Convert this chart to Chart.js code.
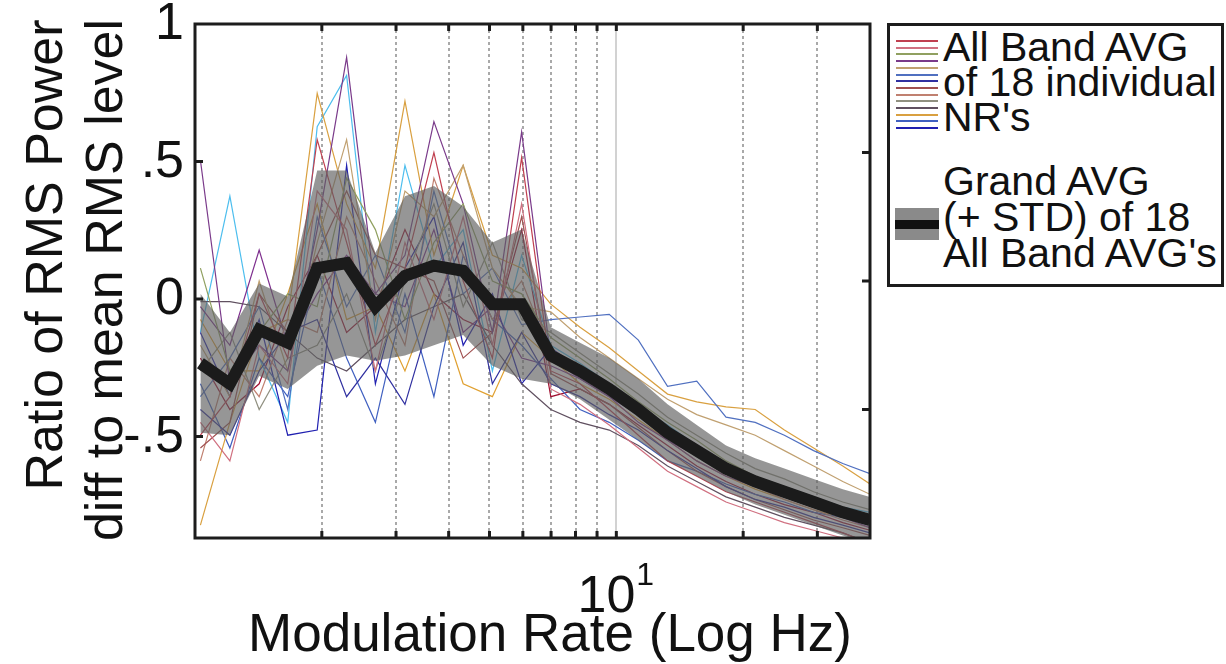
<!DOCTYPE html>
<html>
<head>
<meta charset="utf-8">
<title>RMS power vs modulation rate</title>
<script src="https://cdn.jsdelivr.net/npm/chart.js@4.4.1/dist/chart.umd.min.js"></script>
<style>
  html, body { margin: 0; padding: 0; background: #fff; }
  #wrap { position: relative; width: 1226px; height: 664px; font-family: "Liberation Sans", Arial, sans-serif; color: #111; }
  #grafico { position: absolute; left: 0; top: 0; }
  #leyenda { position: absolute; left: 887px; top: 23px; width: 337px; height: 264px; border: 3px solid #1c1c1c; box-sizing: border-box; background: #fff; }
  .txt { position: absolute; left: 53px; font-size: 41px; line-height: 35px; white-space: nowrap; }
  .sw { position: absolute; left: 6px; width: 42px; height: 2px; }
  #icono { position: absolute; left: 5px; top: 182px; width: 44px; height: 32px; background: #8a8a8a; }
  #icono div { position: absolute; left: 0; top: 12px; width: 44px; height: 9px; background: #111; }
</style>
</head>
<body>
<div id="wrap">
  <canvas id="grafico" width="1226" height="664"></canvas>
  <div id="leyenda">
    <div id="muestras"></div>
    <div class="txt" style="top:4px">All Band AVG<br>of 18 individual<br>NR's</div>
    <div class="txt" style="top:137px; line-height:36px">Grand AVG<br>(+ STD) of 18<br>All Band AVG's</div>
    <div id="icono"><div></div></div>
  </div>
</div>
<script>
// Frecuencias de modulación (Hz), eje logarítmico
const frecuencias = [1.03, 1.21, 1.42, 1.66, 1.95, 2.29, 2.68, 3.15, 3.69, 4.33, 5.08, 5.96,
                     6.99, 8.20, 9.62, 11.28, 13.23, 15.52, 18.21, 21.36, 25.05, 29.39, 34.47, 40.0];

// Promedio general de los 18 NR y su desviación estándar
const promedioGeneral = [-0.32, -0.40, -0.19, -0.24, 0.05, 0.07, -0.10, 0.02, 0.06, 0.04, -0.09, -0.09,
                         -0.29, -0.35, -0.42, -0.50, -0.59, -0.66, -0.73, -0.78, -0.82, -0.86, -0.90, -0.93];
const desviacion = [0.27, 0.20, 0.18, 0.18, 0.38, 0.36, 0.21, 0.31, 0.31, 0.25, 0.24, 0.29,
                    0.11, 0.11, 0.12, 0.12, 0.11, 0.10, 0.09, 0.09, 0.09, 0.09, 0.09, 0.09];

// Promedios "All Band" de cada uno de los 18 NR
const nrIndividuales = [
  [-0.60, -0.45, -0.05, -0.30, 0.55, 0.15, -0.25, 0.05, 0.50, 0.00, -0.30, 0.48, -0.35, -0.40, -0.50, -0.60, -0.70, -0.76, -0.82, -0.86, -0.90, -0.94, -0.98, -1.02],
  [-0.55, -0.70, -0.25, -0.40, 0.35, 0.20, -0.35, 0.15, -0.15, 0.25, -0.25, 0.30, -0.42, -0.48, -0.56, -0.65, -0.74, -0.80, -0.86, -0.90, -0.94, -0.97, -1.00, -1.04],
  [0.05, -0.35, -0.20, -0.05, -0.10, 0.40, 0.20, -0.15, 0.15, 0.30, 0.00, -0.05, -0.22, -0.30, -0.38, -0.47, -0.55, -0.62, -0.70, -0.76, -0.80, -0.85, -0.88, -0.91],
  [0.47, -0.40, -0.25, -0.35, 0.20, 0.87, -0.05, 0.10, 0.62, 0.30, -0.20, 0.58, -0.30, -0.38, -0.45, -0.52, -0.62, -0.70, -0.76, -0.80, -0.84, -0.88, -0.92, -0.96],
  [-0.25, -0.45, 0.00, -0.35, 0.15, 0.55, -0.15, 0.35, 0.25, 0.45, 0.05, -0.10, -0.12, -0.22, -0.30, -0.38, -0.46, -0.52, -0.56, -0.60, -0.66, -0.72, -0.78, -0.83],
  [-0.45, -0.30, -0.10, -0.50, 0.25, -0.10, 0.10, -0.20, 0.35, -0.05, 0.05, -0.17, -0.15, -0.14, -0.13, -0.23, -0.41, -0.39, -0.53, -0.55, -0.60, -0.66, -0.71, -0.75],
  [-0.50, -0.60, -0.35, -0.20, -0.15, -0.45, -0.30, -0.48, -0.10, 0.15, -0.40, -0.20, -0.40, -0.45, -0.52, -0.58, -0.66, -0.73, -0.80, -0.85, -0.88, -0.92, -0.95, -0.98],
  [-0.65, -0.55, -0.05, -0.20, 0.10, 0.35, 0.10, 0.05, 0.00, -0.30, -0.20, 0.25, -0.36, -0.42, -0.48, -0.57, -0.66, -0.74, -0.80, -0.85, -0.89, -0.93, -0.96, -0.99],
  [-0.70, -0.30, -0.45, -0.15, -0.20, 0.25, 0.00, -0.25, 0.40, 0.10, -0.15, 0.00, -0.28, -0.36, -0.44, -0.52, -0.60, -0.68, -0.75, -0.80, -0.85, -0.89, -0.93, -0.96],
  [-0.35, -0.20, -0.50, -0.30, -0.25, -0.05, -0.35, 0.00, 0.30, -0.10, 0.15, -0.15, -0.20, -0.28, -0.36, -0.44, -0.53, -0.60, -0.67, -0.73, -0.77, -0.82, -0.86, -0.89],
  [-0.08, -0.08, -0.10, -0.20, -0.30, -0.35, -0.25, -0.15, -0.10, -0.05, -0.25, -0.40, -0.50, -0.55, -0.58, -0.64, -0.72, -0.78, -0.84, -0.88, -0.92, -0.95, -0.98, -1.02],
  [-0.95, -0.55, -0.20, -0.15, 0.73, 0.30, 0.05, 0.70, 0.10, 0.45, 0.10, 0.05, -0.09, -0.18, -0.26, -0.35, -0.44, -0.47, -0.49, -0.50, -0.58, -0.65, -0.72, -0.79],
  [-0.40, -0.65, -0.30, -0.45, 0.05, -0.30, -0.55, -0.05, -0.45, 0.10, -0.15, -0.25, -0.38, -0.50, -0.55, -0.62, -0.70, -0.74, -0.79, -0.83, -0.86, -0.90, -0.92, -0.95],
  [-0.20, -0.45, -0.15, -0.60, -0.58, 0.45, -0.40, 0.05, 0.25, -0.25, -0.05, -0.40, -0.26, -0.34, -0.41, -0.50, -0.58, -0.65, -0.72, -0.77, -0.81, -0.85, -0.89, -0.92],
  [-0.10, -0.25, 0.12, -0.25, -0.05, 0.10, -0.05, -0.10, 0.20, -0.20, -0.10, -0.30, -0.33, -0.38, -0.45, -0.55, -0.62, -0.68, -0.74, -0.79, -0.84, -0.88, -0.91, -0.95],
  [-0.20, 0.33, -0.30, -0.55, 0.60, 0.80, -0.20, 0.45, 0.05, 0.20, -0.35, 0.10, -0.25, -0.32, -0.40, -0.49, -0.56, -0.64, -0.71, -0.77, -0.80, -0.84, -0.88, -0.90],
  [-0.15, -0.35, -0.35, -0.05, 0.30, -0.15, -0.10, -0.35, -0.05, -0.40, -0.45, -0.20, -0.30, -0.40, -0.46, -0.54, -0.62, -0.70, -0.76, -0.81, -0.85, -0.89, -0.92, -0.95],
  [-0.30, -0.50, -0.40, -0.10, 0.10, -0.20, -0.10, 0.20, -0.05, -0.15, -0.20, 0.20, -0.45, -0.42, -0.48, -0.56, -0.64, -0.72, -0.78, -0.83, -0.87, -0.90, -0.94, -0.97]
];
const coloresNR = ['#c04050', '#d07080', '#90a060', '#7a3a8a', '#c0a070', '#5070c0', '#3030a0', '#a05050', '#c08070',
                   '#909080', '#605060', '#d9a040', '#4060c0', '#2020b0', '#7e2f8e', '#4dbeee', '#e0a030', '#a01030'];

// Marcas de los ejes
const marcasX = [2, 3, 4, 5, 6, 7, 8, 9, 10, 20, 30];
const marcasY = [0.5, 0, -0.5];
const valoresEtiquetaY = [1, 0.5, 0, -0.5];
const textosEtiquetaY = ['1', '.5', '0', '-.5'];

const fuente = '"Liberation Sans", Arial, sans-serif';

function puntos(valores) {
    return valores.map((v, i) => ({ x: frecuencias[i], y: v }));
}

// Muestras de color de la leyenda (una línea por NR visible)
const muestras = document.getElementById('muestras');
for (let i = 0; i < 14; i++) {
    const linea = document.createElement('div');
    linea.className = 'sw';
    linea.style.top = (14 + i * 6.7) + 'px';
    linea.style.background = coloresNR[i];
    muestras.appendChild(linea);
}

const bandaSup = promedioGeneral.map((v, i) => v + desviacion[i]);
const bandaInf = promedioGeneral.map((v, i) => v - desviacion[i]);

const conjuntos = [
    { label: 'Grand AVG', data: puntos(promedioGeneral), borderColor: '#1b1b1b', borderWidth: 12, pointRadius: 0, fill: false, clip: 0 },
    { label: 'STD sup', data: puntos(bandaSup), borderColor: 'rgba(0,0,0,0)', borderWidth: 0, backgroundColor: 'rgba(96,96,96,0.66)', fill: '+1', pointRadius: 0, clip: 0 },
    { label: 'STD inf', data: puntos(bandaInf), borderColor: 'rgba(0,0,0,0)', borderWidth: 0, pointRadius: 0, fill: false, clip: 0 }
];
nrIndividuales.forEach((serie, i) => {
    conjuntos.push({ label: 'NR ' + (i + 1), data: puntos(serie), borderColor: coloresNR[i], borderWidth: 1.2, pointRadius: 0, fill: false, clip: 0 });
});

// Marco, marcas y textos de los ejes
const marco = {
    id: 'marco',
    afterDraw(chart) {
        const { ctx, chartArea: a, scales } = chart;
        ctx.save();
        ctx.strokeStyle = '#1c1c1c';
        ctx.lineWidth = 3;
        ctx.strokeRect(a.left, a.top, a.right - a.left, a.bottom - a.top);

        marcasX.forEach(v => {
            const px = scales.x.getPixelForValue(v);
            ctx.beginPath();
            ctx.moveTo(px, a.top); ctx.lineTo(px, a.top + 7);
            ctx.moveTo(px, a.bottom); ctx.lineTo(px, a.bottom - 7);
            ctx.stroke();
        });
        marcasY.forEach(v => {
            const pyI = scales.yEtiquetas.getPixelForValue(v);
            const pyD = scales.y.getPixelForValue(v);
            ctx.beginPath();
            ctx.moveTo(a.left, pyI); ctx.lineTo(a.left + 8, pyI);
            ctx.moveTo(a.right, pyD); ctx.lineTo(a.right - 8, pyD);
            ctx.stroke();
        });

        ctx.fillStyle = '#111';
        ctx.font = '52px ' + fuente;
        ctx.textAlign = 'right';
        ctx.textBaseline = 'middle';
        valoresEtiquetaY.forEach((v, i) => {
            ctx.fillText(textosEtiquetaY[i], 184, scales.yEtiquetas.getPixelForValue(v) + 1);
        });

        // 10^1 bajo la marca de 10 Hz
        const p10 = scales.x.getPixelForValue(10);
        ctx.textBaseline = 'alphabetic';
        ctx.textAlign = 'right';
        ctx.fillText('10', p10 + 19, 612);
        ctx.font = '32px ' + fuente;
        ctx.textAlign = 'left';
        ctx.fillText('1', p10 + 20, 585);

        ctx.font = '53px ' + fuente;
        ctx.textAlign = 'center';
        ctx.fillText('Modulation Rate (Log Hz)', 550, 651);

        ctx.font = '52px ' + fuente;
        ctx.translate(62, 255);
        ctx.rotate(-Math.PI / 2);
        ctx.fillText('Ratio of RMS Power', 0, 0);
        ctx.rotate(Math.PI / 2);
        ctx.translate(60, 25);
        ctx.rotate(-Math.PI / 2);
        ctx.fillText('diff to mean RMS level', 0, 0);
        ctx.restore();
    }
};

new Chart(document.getElementById('grafico'), {
    type: 'line',
    data: { datasets: conjuntos },
    options: {
        responsive: false,
        animation: false,
        devicePixelRatio: 1,
        layout: { padding: { left: 195, top: 24, right: 356, bottom: 126 } },
        plugins: { legend: { display: false }, tooltip: { enabled: false } },
        scales: {
            x: {
                type: 'logarithmic',
                min: 1,
                max: 40,
                afterBuildTicks: (eje) => { eje.ticks = marcasX.map(v => ({ value: v })); },
                ticks: { display: false },
                grid: {
                    drawTicks: false,
                    lineWidth: 2,
                    color: (c) => (c.tick && c.tick.value === 10) ? '#d2d2d2' : '#a9a9a9'
                },
                border: {
                    display: false,
                    dash: (c) => (c.tick && c.tick.value === 10) ? [] : [3, 3]
                }
            },
            y: { type: 'linear', min: -1, max: 1, display: false },
            yEtiquetas: { type: 'linear', position: 'left', min: -0.869, max: 1.0, display: false }
        }
    },
    plugins: [marco]
});
</script>
</body>
</html>
